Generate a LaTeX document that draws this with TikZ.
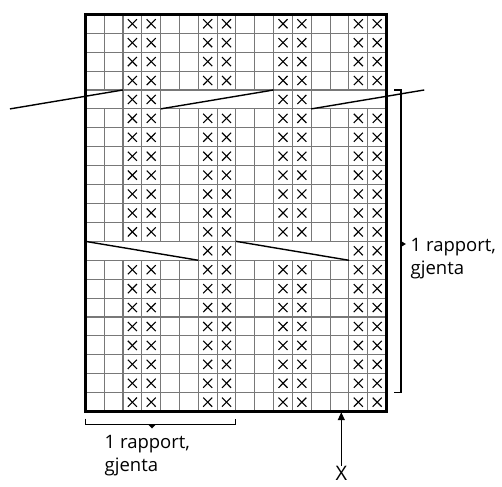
\documentclass[tikz,border=0pt]{standalone}
\usepackage{fontspec}
\setmainfont{Open Sans}
\usetikzlibrary{arrows.meta}
\definecolor{gridgray}{RGB}{120,120,120}
\tikzset{
  gridline/.style={draw=gridgray, line width=1.1pt},
  xmark/.style={draw=black, line width=1.1pt},
  diag/.style={draw=black, line width=1.4pt},
  border/.style={draw=black, line width=2.6pt},
  bracket/.style={draw=black, line width=1.1pt},
  label/.style={font=\fontsize{18.5}{23.5}\selectfont, align=left, inner sep=0pt},
}
\begin{document}
\begin{tikzpicture}[x=1pt,y=-1pt]
\useasboundingbox (0,0) rectangle (502,486);
\begin{scope}[shift={(85.3pt,-14.3pt)}, x=18.83pt, y=-18.92pt]
  % horizontal grid lines
  \foreach \r in {1,...,20} \draw[gridline] (0,\r) -- (16,\r);
  % vertical grid lines in normal rows
  \foreach \c in {1,...,15} {
    \draw[gridline] (\c,0) -- (\c,4);
    \draw[gridline] (\c,5) -- (\c,12);
    \draw[gridline] (\c,13) -- (\c,21);
  }
  % merged rows
  \foreach \c in {2,3,4,10,11,12} \draw[gridline] (\c,4) -- (\c,5);
  \foreach \c in {6,7,8,14,15} \draw[gridline] (\c,12) -- (\c,13);
  % X marks
  \foreach \r in {0,1,2,3,5,6,7,8,9,10,11,13,14,15,16,17,18,19,20}
    \foreach \c in {2,3,6,7,10,11,14,15} {
      \draw[xmark] (\c+0.26,\r+0.26) -- (\c+0.74,\r+0.74);
      \draw[xmark] (\c+0.74,\r+0.26) -- (\c+0.26,\r+0.74);
    }
  \foreach \c in {2,3,10,11} {
    \draw[xmark] (\c+0.26,4.26) -- (\c+0.74,4.74);
    \draw[xmark] (\c+0.74,4.26) -- (\c+0.26,4.74);
  }
  \foreach \c in {6,7,14,15} {
    \draw[xmark] (\c+0.26,12.26) -- (\c+0.74,12.74);
    \draw[xmark] (\c+0.74,12.26) -- (\c+0.26,12.74);
  }
  % diagonal lines
  \draw[diag] (-4,5) -- (2,4);
  \draw[diag] (4,5) -- (10,4);
  \draw[diag] (12,5) -- (18,4);
  \draw[diag] (0,12) -- (6,13);
  \draw[diag] (8,12) -- (14,13);
  % border
  \draw[border] (0,0) rectangle (16,21);
\end{scope}
% right bracket
\draw[bracket] (394,90) -- (401,90) -- (401,392.5) -- (394,392.5);
\fill (401.5,241.3) -- (405.8,244) -- (401.5,246.7) -- cycle;
\node[label, anchor=north west] (rlab) at (410.5,237.6) {1 rapport,\\gjenta};
% bottom bracket
\draw[bracket] (85.5,418.5) -- (85.5,424.3) -- (235.8,424.3) -- (235.8,418.5);
\fill (148,424.3) -- (156,424.3) -- (152,428.5) -- cycle;
\node[label, anchor=north west] (blab) at (104.5,434.8) {1 rapport,\\gjenta};
% X arrow
\node[inner sep=0pt, anchor=north, font=\fontsize{20}{24}\selectfont] (xlab) at (341.3,466.5) {X};
\coordinate (xtip) at (341.3,412.2);
\draw[line width=1.1pt, -{Triangle[length=8pt,width=7pt]}] ([yshift=1pt]xlab.north) -- (xtip);
\end{tikzpicture}
\end{document}
